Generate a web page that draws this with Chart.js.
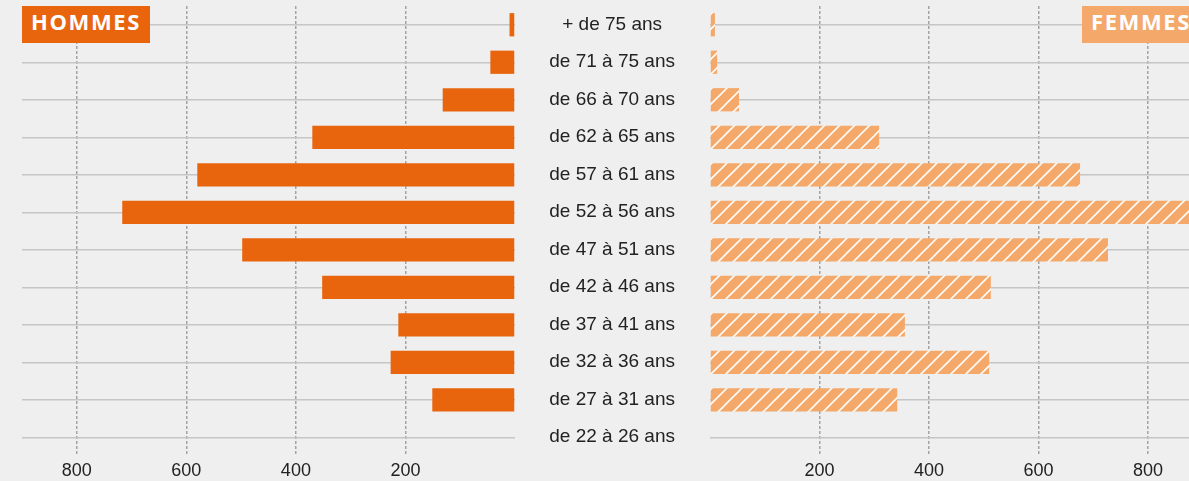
<!DOCTYPE html>
<html lang="fr">
<head>
<meta charset="utf-8">
<title>Pyramide des âges</title>
<script src="https://cdn.jsdelivr.net/npm/chart.js@4.4.1/dist/chart.umd.min.js"></script>
<style>
  html, body { margin: 0; padding: 0; }
  body {
    width: 1189px; height: 481px; overflow: hidden; position: relative;
    background: #efefef;
  }
  #left { position: absolute; left: 0; top: 0; }
  #right { position: absolute; left: 515px; top: 0; }
  .tag {
    position: absolute; top: 6px; height: 37px; line-height: 63px; overflow: hidden;
    color: #fff; font: bold 22px "Open Sans", sans-serif; letter-spacing: 1.6px;
    padding-left: 9px; box-sizing: border-box; z-index: 2; white-space: nowrap;
  }
  #hommes { left: 22px; width: 128px; background: #e8650e; }
  #femmes { left: 1082px; width: 130px; background: #f4a96b; }
</style>
</head>
<body>
<div class="tag" id="hommes">HOMMES</div>
<div class="tag" id="femmes">FEMMES</div>
<canvas id="left" width="515" height="481"></canvas>
<canvas id="right" width="674" height="481"></canvas>
<script>
const categories = ['+ de 75 ans', 'de 71 à 75 ans', 'de 66 à 70 ans', 'de 62 à 65 ans',
  'de 57 à 61 ans', 'de 52 à 56 ans', 'de 47 à 51 ans', 'de 42 à 46 ans',
  'de 37 à 41 ans', 'de 32 à 36 ans', 'de 27 à 31 ans', 'de 22 à 26 ans'];
const hommes = [10, 45, 132, 370, 580, 717, 498, 352, 213, 227, 151, 0];
const femmes = [9, 13, 53, 309, 676, 880, 727, 513, 356, 510, 342, 0];
const xTicks = [200, 400, 600, 800];

const orange = '#e8650e';
const peach = '#f4a96b';

// motif hachuré pour les femmes
function hatch() {
  const c = document.createElement('canvas');
  c.width = 15; c.height = 15;
  const g = c.getContext('2d');
  g.fillStyle = peach;
  g.fillRect(0, 0, 15, 15);
  g.strokeStyle = 'rgba(255,255,255,0.95)';
  g.lineWidth = 1.6;
  g.beginPath();
  g.moveTo(0, 15); g.lineTo(15, 0);
  g.moveTo(-2, 2); g.lineTo(2, -2);
  g.moveTo(13, 17); g.lineTo(17, 13);
  g.stroke();
  return g.createPattern(c, 'repeat');
}

const tickFont = { family: '"Liberation Sans", Arial, sans-serif', size: 18 };

// pas de marge automatique autour des axes
function noPad(s) {
  s.paddingLeft = 0; s.paddingRight = 0; s.paddingTop = 0; s.paddingBottom = 0;
}

function xScale(max, reverse) {
  return {
    min: 0, max: max, reverse: reverse,
    ticks: {
      stepSize: 200, includeBounds: false, color: '#222', font: tickFont, padding: 4,
      maxRotation: 0, autoSkip: false,
      callback: v => xTicks.includes(v) ? v : ''
    },
    grid: {
      drawTicks: false, lineWidth: 1.5,
      color: ctx => ctx.tick && xTicks.includes(ctx.tick.value) ? '#a3a3a3' : 'rgba(0,0,0,0)'
    },
    border: { display: false, dash: [3, 2] },
    afterFit: s => { s.height = 25; noPad(s); }
  };
}

const common = {
  indexAxis: 'y',
  responsive: false,
  animation: false,
  plugins: { legend: { display: false }, tooltip: { enabled: false } }
};

new Chart(document.getElementById('left'), {
  type: 'bar',
  data: {
    labels: categories,
    datasets: [{ label: 'Hommes', data: hommes, backgroundColor: orange,
      barPercentage: 0.62, categoryPercentage: 1 }]
  },
  options: {
    ...common,
    layout: { padding: { left: 22, top: 6, right: 0 } },
    scales: {
      x: xScale(900, true),
      y: {
        position: 'right',
        ticks: { display: false },
        grid: { offset: false, color: '#c6c6c6', lineWidth: 1.5, drawTicks: false },
        border: { display: false },
        afterFit: s => { s.width = 0; noPad(s); }
      }
    }
  }
});

new Chart(document.getElementById('right'), {
  type: 'bar',
  data: {
    labels: categories,
    datasets: [{ label: 'Femmes', data: femmes, backgroundColor: hatch(),
      barPercentage: 0.62, categoryPercentage: 1 }]
  },
  options: {
    ...common,
    layout: { padding: { left: 0, top: 6, right: 0 } },
    scales: {
      x: xScale(875, false),
      y: {
        position: 'left',
        ticks: {
          color: '#222', padding: 35, crossAlign: 'center', autoSkip: false,
          font: { family: '"Liberation Sans", Arial, sans-serif', size: 19 }
        },
        grid: { offset: false, color: '#c6c6c6', lineWidth: 1.5, drawTicks: false },
        border: { display: false },
        afterFit: s => { s.width = 195; noPad(s); }
      }
    }
  }
});
</script>
</body>
</html>
